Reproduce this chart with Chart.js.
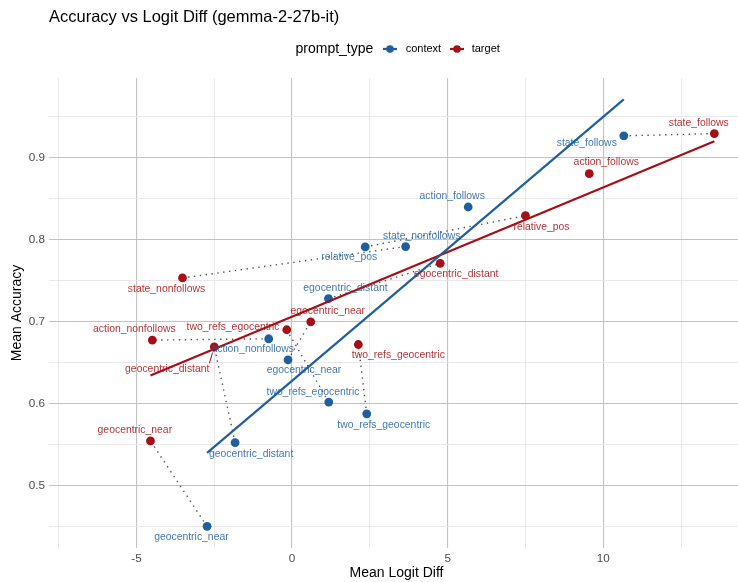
<!DOCTYPE html>
<html>
<head>
<meta charset="utf-8">
<script src="https://cdn.jsdelivr.net/npm/chart.js@4.4.1/dist/chart.umd.min.js"></script>
<style>
  html, body { margin: 0; padding: 0; background: #ffffff; }
  #wrap { width: 738px; height: 582px; position: relative; }
</style>
</head>
<body>
<div id="wrap"><canvas id="c" width="738" height="582"></canvas></div>
<script>
// ---- data ----
const categories = ["state_follows", "action_follows", "state_nonfollows", "relative_pos",
  "egocentric_distant", "action_nonfollows", "egocentric_near", "two_refs_egocentric",
  "two_refs_geocentric", "geocentric_distant", "geocentric_near"];
const contextLogitDiff = [10.66, 5.66, 3.65, 2.35, 1.17, -0.75, -0.13, 1.18, 2.40, -1.83, -2.73];
const contextAccuracy  = [0.9265, 0.8397, 0.7914, 0.7910, 0.7279, 0.6789, 0.6532, 0.6016, 0.5873, 0.5523, 0.4500];
const targetCategories = ["state_follows", "action_follows", "relative_pos", "egocentric_distant",
  "state_nonfollows", "action_nonfollows", "egocentric_near", "two_refs_egocentric",
  "two_refs_geocentric", "geocentric_distant", "geocentric_near"];
const targetLogitDiff  = [13.57, 9.55, 7.50, 4.76, -3.52, -4.49, 0.60, -0.17, 2.13, -2.50, -4.55];
const targetAccuracy   = [0.9293, 0.8804, 0.8291, 0.7710, 0.7531, 0.6773, 0.6996, 0.6899, 0.6719, 0.6691, 0.5543];
// categories joined by a dotted line between their context and target points
const pairedCategories = ["state_follows", "state_nonfollows", "relative_pos", "egocentric_distant",
  "action_nonfollows", "egocentric_near", "two_refs_egocentric", "two_refs_geocentric",
  "geocentric_distant", "geocentric_near"];
const xTickLabels = [-5, 0, 5, 10];
const yTickLabels = [0.5, 0.6, 0.7, 0.8, 0.9];
const seriesNames = ["context", "target"];

// ---- layout (label offsets in px, relative to their point) ----
const contextLabelOffsets = {
  state_follows: [-37, 7], action_follows: [-16, -10.5], state_nonfollows: [16, -10.6],
  relative_pos: [-16, 10.6], egocentric_distant: [17, -10.6], action_nonfollows: [-16, 10.7],
  egocentric_near: [16, 10.7], two_refs_egocentric: [-15.7, -10.3], two_refs_geocentric: [17, 11],
  geocentric_distant: [16, 11.7], geocentric_near: [-15.7, 11]
};
const targetLabelOffsets = {
  state_follows: [-15.6, -10], action_follows: [17, -11], relative_pos: [16, 11],
  egocentric_distant: [16, 11], state_nonfollows: [-16, 11], egocentric_near: [17, -10.3],
  two_refs_egocentric: [-53.7, -2.7], action_nonfollows: [-18, -11], geocentric_distant: [-47, 22],
  two_refs_geocentric: [40, 10.7], geocentric_near: [-15.6, -11]
};

const BLUE = "#1f5f9f", RED = "#a50f15";
const BLUE_TXT = "rgba(31,95,159,0.85)", RED_TXT = "rgba(165,15,21,0.85)";
const FONT = "'Liberation Sans', Arial, Helvetica, sans-serif";

function fit(xs, ys) {
  const n = xs.length;
  const mx = xs.reduce((a, b) => a + b, 0) / n;
  const my = ys.reduce((a, b) => a + b, 0) / n;
  let sxy = 0, sxx = 0;
  for (let i = 0; i < n; i++) { sxy += (xs[i] - mx) * (ys[i] - my); sxx += (xs[i] - mx) ** 2; }
  const b = sxy / sxx, a = my - b * mx;
  const x0 = Math.min(...xs), x1 = Math.max(...xs);
  return [{ x: x0, y: a + b * x0 }, { x: x1, y: a + b * x1 }];
}

const pts = (xs, ys) => xs.map((x, i) => ({ x, y: ys[i] }));

const datasets = [];
pairedCategories.forEach(name => {
  const i = categories.indexOf(name), j = targetCategories.indexOf(name);
  datasets.push({
    type: "line", label: "conn_" + name,
    data: [{ x: contextLogitDiff[i], y: contextAccuracy[i] }, { x: targetLogitDiff[j], y: targetAccuracy[j] }],
    borderColor: "#505050", borderWidth: 1.4, borderDash: [1.4, 4.5], pointRadius: 0, fill: false, order: 3
  });
});
datasets.push({ type: "scatter", label: "context", data: pts(contextLogitDiff, contextAccuracy),
  backgroundColor: BLUE, borderColor: BLUE, pointRadius: 4.4, pointBorderWidth: 0, order: 2 });
datasets.push({ type: "scatter", label: "target", data: pts(targetLogitDiff, targetAccuracy),
  backgroundColor: RED, borderColor: RED, pointRadius: 4.4, pointBorderWidth: 0, order: 2 });
datasets.push({ type: "line", label: "fit_context", data: fit(contextLogitDiff, contextAccuracy),
  borderColor: BLUE, borderWidth: 2.2, pointRadius: 0, fill: false, order: 1 });
datasets.push({ type: "line", label: "fit_target", data: fit(targetLogitDiff, targetAccuracy),
  borderColor: RED, borderWidth: 2.2, pointRadius: 0, fill: false, order: 1 });

const isMult = (v, s) => Math.abs(Math.round(v / s) - v / s) < 1e-6;

const decor = {
  id: "decor",
  afterDatasetsDraw(chart) {
    const ctx = chart.ctx, xs = chart.scales.x, ys = chart.scales.y;
    ctx.save();
    ctx.font = "10.4px " + FONT;
    ctx.textAlign = "center";
    ctx.textBaseline = "middle";
    const drawLabels = (names, xv, yv, offs, color, lineColor) => {
      names.forEach((n, i) => {
        const px = xs.getPixelForValue(xv[i]), py = ys.getPixelForValue(yv[i]);
        const [dx, dy] = offs[n];
        const lx = px + dx, ly = py + dy;
        const w = ctx.measureText(n).width, h = 11;
        const cx = Math.max(lx - w / 2, Math.min(px, lx + w / 2));
        const cy = Math.max(ly - h / 2, Math.min(py, ly + h / 2));
        const d = Math.hypot(px - cx, py - cy);
        if (d > 12) {
          const ex = px + (cx - px) * 6 / d, ey = py + (cy - py) * 6 / d;
          ctx.strokeStyle = lineColor; ctx.lineWidth = 1;
          ctx.beginPath(); ctx.moveTo(cx, cy); ctx.lineTo(ex, ey); ctx.stroke();
        }
        ctx.fillStyle = color;
        ctx.fillText(n, lx, ly);
      });
    };
    drawLabels(categories, contextLogitDiff, contextAccuracy, contextLabelOffsets, BLUE_TXT, BLUE);
    drawLabels(targetCategories, targetLogitDiff, targetAccuracy, targetLabelOffsets, RED_TXT, RED);

    ctx.fillStyle = "#000000";
    ctx.textAlign = "left";
    ctx.font = "16.5px " + FONT;
    ctx.fillText("Accuracy vs Logit Diff (gemma-2-27b-it)", 49, 17);
    ctx.font = "14px " + FONT;
    ctx.fillText("prompt_type", 295.5, 49);
    const keys = [[390, BLUE, seriesNames[0], 405.7], [457, RED, seriesNames[1], 471.7]];
    keys.forEach(([kx, col, lab, tx]) => {
      ctx.strokeStyle = col; ctx.lineWidth = 2.2;
      ctx.beginPath(); ctx.moveTo(kx - 7, 49); ctx.lineTo(kx + 7, 49); ctx.stroke();
      ctx.fillStyle = col;
      ctx.beginPath(); ctx.arc(kx, 49, 3.8, 0, Math.PI * 2); ctx.fill();
      ctx.fillStyle = "#000000";
      ctx.font = "11px " + FONT;
      ctx.fillText(lab, tx, 49);
    });
    ctx.font = "14px " + FONT;
    ctx.textAlign = "center";
    ctx.fillText("Mean Logit Diff", (chart.chartArea.left + chart.chartArea.right) / 2 + 3, 573.5);
    ctx.translate(17, (chart.chartArea.top + chart.chartArea.bottom) / 2);
    ctx.rotate(-Math.PI / 2);
    ctx.fillText("Mean Accuracy", 0, 0);
    ctx.restore();
  }
};

new Chart(document.getElementById("c"), {
  type: "scatter",
  data: { datasets },
  options: {
    responsive: false,
    animation: false,
    devicePixelRatio: 1,
    layout: { autoPadding: false, padding: { top: 78, right: 0, left: 0, bottom: 0 } },
    plugins: { legend: { display: false }, tooltip: { enabled: false }, title: { display: false } },
    scales: {
      x: {
        type: "linear", min: -7.81, max: 14.33,
        afterFit: s => { s.height = 34; s.paddingLeft = 0; s.paddingRight = 0; },
        border: { display: false },
        grid: {
          drawTicks: false,
          color: c => isMult(c.tick.value, 5) ? "#c3c3c3" : "#e6e6e6",
          lineWidth: c => isMult(c.tick.value, 5) ? 1.1 : 0.9
        },
        ticks: {
          stepSize: 2.5, includeBounds: false, autoSkip: false, maxRotation: 0, padding: 4,
          color: "#4d4d4d", font: { size: 11.7, family: FONT },
          callback: v => (isMult(v, 5) && xTickLabels.includes(Math.round(v))) ? String(Math.round(v)) : ""
        }
      },
      y: {
        type: "linear", min: 0.4236, max: 0.9971,
        afterFit: s => { s.width = 49; s.paddingTop = 0; s.paddingBottom = 0; },
        border: { display: false },
        grid: {
          drawTicks: false,
          color: c => isMult(c.tick.value, 0.1) ? "#c3c3c3" : "#e6e6e6",
          lineWidth: c => isMult(c.tick.value, 0.1) ? 1.1 : 0.9
        },
        ticks: {
          stepSize: 0.05, includeBounds: false, autoSkip: false, padding: 4,
          color: "#4d4d4d", font: { size: 11.7, family: FONT },
          callback: v => {
            const r = Math.round(v * 10) / 10;
            return (isMult(v, 0.1) && yTickLabels.includes(r)) ? r.toFixed(1) : "";
          }
        }
      }
    }
  },
  plugins: [decor]
});
</script>
</body>
</html>
